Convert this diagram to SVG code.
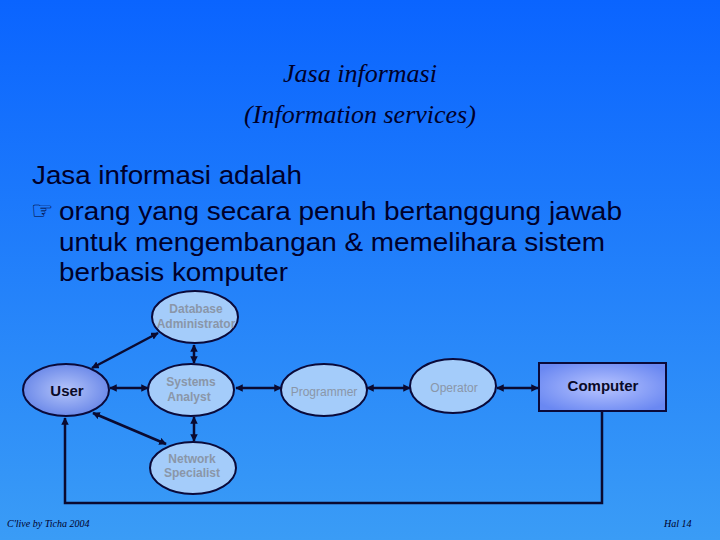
<svg xmlns="http://www.w3.org/2000/svg" width="720" height="540" viewBox="0 0 720 540">
<defs>
<linearGradient id="bg" x1="0" y1="0" x2="0" y2="1">
<stop offset="0" stop-color="#0a64ff"/>
<stop offset="1" stop-color="#3a9cf6"/>
</linearGradient>
<radialGradient id="userg" cx="0.5" cy="0.5" r="0.6">
<stop offset="0" stop-color="#b4c4fa"/>
<stop offset="1" stop-color="#5f7fe6"/>
</radialGradient>
<radialGradient id="compg" cx="0.5" cy="0.5" r="0.6">
<stop offset="0" stop-color="#b8c4ff"/>
<stop offset="1" stop-color="#6a88f2"/>
</radialGradient>
<marker id="ah" viewBox="0 0 10 10" refX="9" refY="5" markerWidth="3" markerHeight="3" orient="auto-start-reverse">
<path d="M0,0 L10,5 L0,10 Z" fill="#0a0a30"/>
</marker>
<style>
.node{fill:#a4ccfa;stroke:#0a0a3a;stroke-width:2}
.lbl{font-family:"Liberation Sans",Arial,sans-serif;font-size:12px;fill:#8a96a8;text-anchor:middle}
.b{font-weight:bold}
.dark{fill:#0a0a28;font-size:15px;font-weight:bold}
.con{stroke:#0a0a30;stroke-width:2.5;fill:none}
.arr{marker-start:url(#ah);marker-end:url(#ah)}
.body{font-family:"Liberation Sans",Arial,sans-serif;font-size:25px;fill:#00002a}
.title{font-family:"Liberation Serif","Times New Roman",serif;font-style:italic;font-size:26px;fill:#00002a;text-anchor:middle}
.foot{font-family:"Liberation Serif",serif;font-style:italic;font-size:10px;fill:#00002a}
</style>
</defs>
<rect width="720" height="540" fill="url(#bg)"/>
<text class="title" x="360" y="82">Jasa informasi</text>
<text class="title" x="360" y="123">(Information services)</text>
<text class="body" x="32" y="184" textLength="270" lengthAdjust="spacingAndGlyphs">Jasa informasi adalah</text>
<text class="body" x="31" y="219" font-family="DejaVu Sans" font-size="17">☞</text>
<text class="body" x="59" y="220" textLength="563" lengthAdjust="spacingAndGlyphs">orang yang secara penuh bertanggung jawab</text>
<text class="body" x="59" y="251" textLength="546" lengthAdjust="spacingAndGlyphs">untuk mengembangan &amp; memelihara sistem</text>
<text class="body" x="59" y="281" textLength="229" lengthAdjust="spacingAndGlyphs">berbasis komputer</text>
<g id="connectors">
<line class="con arr" x1="92" y1="368" x2="158" y2="333"/>
<line class="con arr" x1="194" y1="345" x2="194" y2="363"/>
<line class="con arr" x1="110" y1="388" x2="148" y2="388"/>
<line class="con arr" x1="93" y1="413" x2="166" y2="444"/>
<line class="con arr" x1="194" y1="417" x2="194" y2="441"/>
<line class="con arr" x1="236" y1="388" x2="281" y2="388"/>
<line class="con arr" x1="367" y1="388" x2="410" y2="388"/>
<line class="con arr" x1="497" y1="388" x2="538" y2="388"/>
<polyline class="con" points="602,412 602,503 65,503 65,418" marker-end="url(#ah)"/>
</g>
<g id="user"><ellipse class="node" cx="66" cy="390" rx="43" ry="26" style="fill:url(#userg)"/><text class="lbl dark" x="67" y="396">User</text></g>
<g id="dba"><ellipse class="node" cx="195" cy="317" rx="43" ry="26"/><text class="lbl b" x="196" y="313">Database</text><text class="lbl b" x="196" y="328">Administrator</text></g>
<g id="sa"><ellipse class="node" cx="191" cy="390" rx="43" ry="26"/><text class="lbl b" x="191" y="386">Systems</text><text class="lbl b" x="189" y="401">Analyst</text></g>
<g id="ns"><ellipse class="node" cx="193" cy="468" rx="43" ry="26"/><text class="lbl b" x="192" y="463">Network</text><text class="lbl b" x="192" y="477">Specialist</text></g>
<g id="programmer"><ellipse class="node" cx="324" cy="390" rx="43" ry="26"/><text class="lbl" x="324" y="396">Programmer</text></g>
<g id="operator"><ellipse class="node" cx="453" cy="386" rx="43" ry="27"/><text class="lbl" x="454" y="392">Operator</text></g>
<g id="computer"><rect x="539" y="363" width="127" height="48" stroke="#0a0a3a" stroke-width="2" fill="url(#compg)"/><text class="lbl dark" x="603" y="391">Computer</text></g>
<text class="foot" x="7" y="527">C'live by Ticha 2004</text>
<text class="foot" x="664" y="527">Hal 14</text>
</svg>
